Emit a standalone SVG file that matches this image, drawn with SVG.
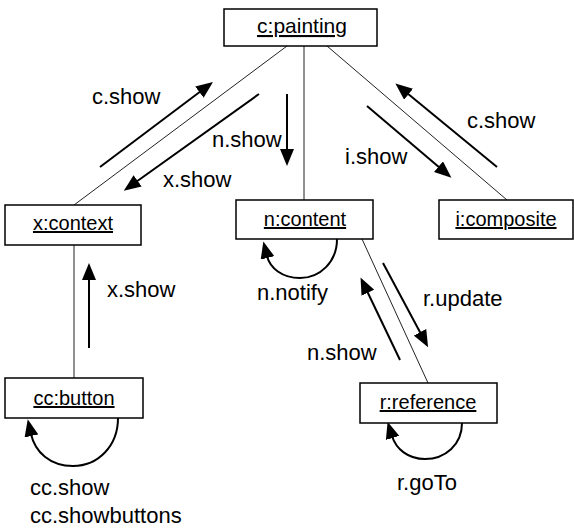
<svg xmlns="http://www.w3.org/2000/svg" width="574" height="529" viewBox="0 0 574 529">
  <style>
    .box { fill: #fff; stroke: #000; stroke-width: 1.5; }
    .link { stroke: #222; stroke-width: 1; fill: none; }
    .msg { stroke: #000; stroke-width: 2; fill: none; marker-end: url(#head); }
    .name { font-family: "Liberation Sans", Arial, sans-serif; font-size: 20px; fill: #000; text-anchor: middle; text-decoration: underline; }
    .lbl { font-family: "Liberation Sans", Arial, sans-serif; font-size: 22px; fill: #000; }
  </style>
  <defs>
    <marker id="head" markerUnits="userSpaceOnUse" markerWidth="17" markerHeight="14" refX="2" refY="7" orient="auto">
      <path d="M0,0 L17,7 L0,14 z" fill="#000"/>
    </marker>
  </defs>

  <!-- links between objects -->
  <g id="connectors">
    <line class="link" x1="287" y1="46" x2="74" y2="205"/>
    <line class="link" x1="304" y1="46" x2="304" y2="200"/>
    <line class="link" x1="327" y1="46" x2="507" y2="200"/>
    <line class="link" x1="74" y1="245" x2="74" y2="378"/>
    <line class="link" x1="362" y1="239" x2="428" y2="383"/>

    <!-- messages -->
    <line class="msg" x1="100" y1="167" x2="201" y2="91"/>
    <line class="msg" x1="259" y1="94" x2="136" y2="182"/>
    <line class="msg" x1="287" y1="94" x2="287" y2="151"/>
    <line class="msg" x1="367" y1="106" x2="440" y2="168"/>
    <line class="msg" x1="497" y1="167" x2="407" y2="93"/>
    <line class="msg" x1="89" y1="348" x2="89" y2="278"/>
    <line class="msg" x1="383" y1="263" x2="421" y2="334"/>
    <line class="msg" x1="400" y1="360" x2="367" y2="291"/>

    <!-- self calls -->
    <path class="msg" d="M118,418 C118,446 98,466 73,466 C50,466 35,452 31,434"/>
    <path class="msg" d="M337,239 C337,262 320,278 300,278 C282,278 270,268 267,256"/>
    <path class="msg" d="M462,423 C462,445 445,459 425,459 C408,459 396,449 392,436"/>

    <text class="lbl" x="92" y="104">c.show</text>
    <text class="lbl" x="163" y="187">x.show</text>
    <text class="lbl" x="212" y="147">n.show</text>
    <text class="lbl" x="345" y="164">i.show</text>
    <text class="lbl" x="467" y="128">c.show</text>
    <text class="lbl" x="107" y="297">x.show</text>
    <text class="lbl" x="257" y="300">n.notify</text>
    <text class="lbl" x="423" y="306">r.update</text>
    <text class="lbl" x="307" y="360">n.show</text>
    <text class="lbl" x="397" y="490">r.goTo</text>
    <text class="lbl" x="30" y="495">cc.show</text>
    <text class="lbl" x="30" y="523">cc.showbuttons</text>
  </g>

  <g id="painting">
    <rect class="box" x="224" y="9" width="153" height="37"/>
    <text class="name" x="302" y="33" style="font-size:21px">c:painting</text>
  </g>
  <g id="context">
    <rect class="box" x="5" y="205" width="136" height="40"/>
    <text class="name" x="73" y="230">x:context</text>
  </g>
  <g id="content">
    <rect class="box" x="236" y="200" width="137" height="39"/>
    <text class="name" x="305" y="226">n:content</text>
  </g>
  <g id="composite">
    <rect class="box" x="439" y="200" width="134" height="39"/>
    <text class="name" x="506" y="226">i:composite</text>
  </g>
  <g id="button">
    <rect class="box" x="5" y="378" width="138" height="40"/>
    <text class="name" x="74" y="405">cc:button</text>
  </g>
  <g id="reference">
    <rect class="box" x="360" y="383" width="137" height="40"/>
    <text class="name" x="428" y="409">r:reference</text>
  </g>
</svg>
